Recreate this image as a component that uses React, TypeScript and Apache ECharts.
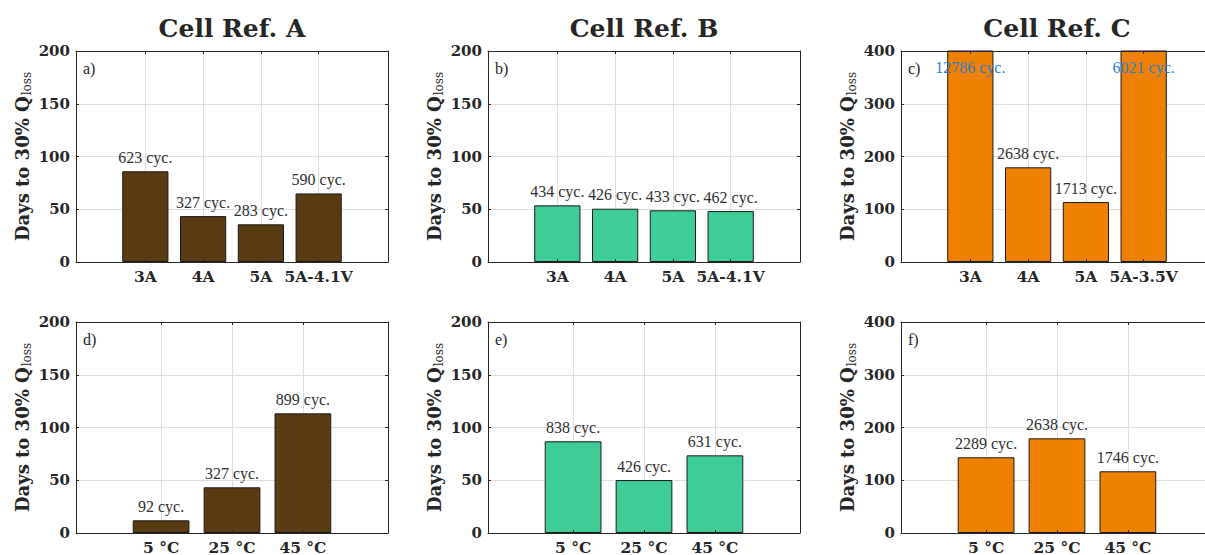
import React, { useEffect, useRef } from 'react';
import * as echarts from 'echarts';

const columnTitles = ['Cell Ref. A', 'Cell Ref. B', 'Cell Ref. C'];
const panelLetters = ['a)', 'b)', 'c)', 'd)', 'e)', 'f)'];

const rateCatsA = ['3A', '4A', '5A', '5A-4.1V'];
const rateCatsB = ['3A', '4A', '5A', '5A-4.1V'];
const rateCatsC = ['3A', '4A', '5A', '5A-3.5V'];
const tempCats = ['5 °C', '25 °C', '45 °C'];

const daysRateA = [86, 43.5, 35.7, 65];
const cycRateA = [623, 327, 283, 590];
const daysRateB = [53.7, 50.5, 49, 48.3];
const cycRateB = [434, 426, 433, 462];
const daysRateC = [870, 179.5, 113.7, 410];
const cycRateC = [12786, 2638, 1713, 6021];

const daysTempA = [12, 43.3, 113.4];
const cycTempA = [92, 327, 899];
const daysTempB = [86.9, 50.2, 73.6];
const cycTempB = [838, 426, 631];
const daysTempC = [143.5, 179.5, 117];
const cycTempC = [2289, 2638, 1746];

const yMaxByCol = [200, 200, 400];
const yStepByCol = [50, 50, 100];
const barColors = ['#5b3b11', '#3fcd97', '#f08000'];

const panels = [
  { cats: rateCatsA, days: daysRateA, cyc: cycRateA },
  { cats: rateCatsB, days: daysRateB, cyc: cycRateB },
  { cats: rateCatsC, days: daysRateC, cyc: cycRateC },
  { cats: tempCats, days: daysTempA, cyc: cycTempA },
  { cats: tempCats, days: daysTempB, cyc: cycTempB },
  { cats: tempCats, days: daysTempC, cyc: cycTempC },
];

const W = 1205;
const H = 555;
const colLeft = [76, 488, 901];
const rowTop = [51, 322];
const plotW = 312;
const plotH = 211;

const INK = '#262626';
const GRIDC = '#dedede';
const BOLD = 'DejaVu Serif';
const REG = 'Liberation Serif';

function buildOption() {
  const grids: any[] = [];
  const xAxes: any[] = [];
  const yAxes: any[] = [];
  const series: any[] = [];
  const graphics: any[] = [];

  panels.forEach((p, g) => {
    const r = Math.floor(g / 3);
    const c = g % 3;
    const n = p.cats.length;
    const left = colLeft[c];
    const top = rowTop[r];
    grids.push({
      left,
      top,
      width: plotW,
      height: plotH,
      outerBoundsMode: 'none',
      containLabel: false,
    });
    const pos = p.cats.map((_, i) => i + 1);
    const xBase = {
      type: 'value',
      gridIndex: g,
      min: -0.2,
      max: n + 1.2,
    };
    xAxes.push({
      ...xBase,
      position: 'bottom',
      z: 5,
      axisLine: { show: true, onZero: false, lineStyle: { color: INK, width: 1 } },
      axisTick: { show: true, inside: true, length: 3, customValues: pos, lineStyle: { color: INK } },
      axisLabel: {
        show: true,
        customValues: pos,
        formatter: (v: number) => p.cats[Math.round(v) - 1] ?? '',
        fontFamily: BOLD,
        fontWeight: 'bold',
        fontSize: 15.5,
        lineHeight: 14,
        color: INK,
        margin: 7,
      },
      splitLine: { show: false },
    });
    xAxes.push({
      ...xBase,
      position: 'top',
      z: 5,
      axisLine: { show: true, onZero: false, lineStyle: { color: INK, width: 1 } },
      axisTick: { show: true, inside: true, length: 3, customValues: pos, lineStyle: { color: INK } },
      axisLabel: { show: false },
      splitLine: { show: false },
    });
    xAxes.push({
      ...xBase,
      position: 'bottom',
      z: 0,
      axisLine: { show: false },
      axisTick: { show: false, customValues: pos },
      axisLabel: { show: false, customValues: pos },
      splitLine: { show: true, lineStyle: { color: GRIDC, width: 1 } },
    });

    const yBase = {
      type: 'value',
      gridIndex: g,
      min: 0,
      max: yMaxByCol[c],
      interval: yStepByCol[c],
    };
    yAxes.push({
      ...yBase,
      position: 'left',
      z: 5,
      name: '{b|Days to 30% Q}{s|loss}',
      nameLocation: 'middle',
      nameRotate: 90,
      nameGap: 43,
      nameTextStyle: {
        rich: {
          b: { fontFamily: BOLD, fontWeight: 'bold', fontSize: 18, lineHeight: 22, color: INK },
          s: { fontFamily: BOLD, fontWeight: 'normal', fontSize: 12, lineHeight: 12, padding: [10, 0, 0, 1], color: INK },
        },
      },
      axisLine: { show: true, onZero: false, lineStyle: { color: INK, width: 1 } },
      axisTick: { show: true, inside: true, length: 3, lineStyle: { color: INK } },
      axisLabel: {
        show: true,
        fontFamily: BOLD,
        fontWeight: 'bold',
        fontSize: 15,
        color: INK,
        margin: 6,
      },
      splitLine: { show: false },
    });
    yAxes.push({
      ...yBase,
      position: 'right',
      z: 5,
      axisLine: { show: true, onZero: false, lineStyle: { color: INK, width: 1 } },
      axisTick: { show: true, inside: true, length: 3, lineStyle: { color: INK } },
      axisLabel: { show: false },
      splitLine: { show: false },
    });
    yAxes.push({
      ...yBase,
      position: 'left',
      z: 0,
      axisLine: { show: false },
      axisTick: { show: false },
      axisLabel: { show: false },
      splitLine: { show: true, lineStyle: { color: GRIDC, width: 1 } },
    });

    const step = plotW / (n + 1.4);
    const yMax = yMaxByCol[c];
    series.push({
      type: 'bar',
      xAxisIndex: 3 * g,
      yAxisIndex: 3 * g,
      barWidth: step * 0.8,
      clip: true,
      z: 2,
      itemStyle: { color: barColors[c], borderColor: '#1a1a1a', borderWidth: 1 },
      data: p.days.map((d, i) => {
        const over = d > yMax;
        return {
          value: [i + 1, d],
          label: {
            show: true,
            position: over ? 'insideTop' : 'top',
            distance: over ? 9 : 6,
            formatter: `${p.cyc[i]} cyc.`,
            fontFamily: REG,
            fontSize: 16,
            color: over ? '#2f7fd0' : '#303030',
          },
        };
      }),
    });

    graphics.push({
      type: 'text',
      x: left + 7,
      y: top + 17,
      style: {
        text: panelLetters[g],
        fontFamily: REG,
        fontSize: 16,
        fill: INK,
        align: 'left',
        verticalAlign: 'middle',
      },
      z: 10,
    });
  });

  columnTitles.forEach((t, c) => {
    graphics.push({
      type: 'text',
      x: colLeft[c] + plotW / 2,
      y: 28,
      style: {
        text: t,
        fontFamily: BOLD,
        fontWeight: 'bold',
        fontSize: 25,
        fill: INK,
        align: 'center',
        verticalAlign: 'middle',
      },
      z: 10,
    });
  });

  return {
    animation: false,
    backgroundColor: '#ffffff',
    grid: grids,
    xAxis: xAxes,
    yAxis: yAxes,
    series,
    graphic: graphics,
  };
}

export default function App() {
  const ref = useRef<HTMLDivElement>(null);
  useEffect(() => {
    if (!ref.current) return;
    const chart = echarts.init(ref.current, undefined, { renderer: 'svg' });
    chart.setOption(buildOption() as any);
    return () => chart.dispose();
  }, []);
  return (
    <div
      ref={ref}
      style={{ position: 'absolute', left: 0, top: 0, width: W, height: H, background: '#fff' }}
    />
  );
}
